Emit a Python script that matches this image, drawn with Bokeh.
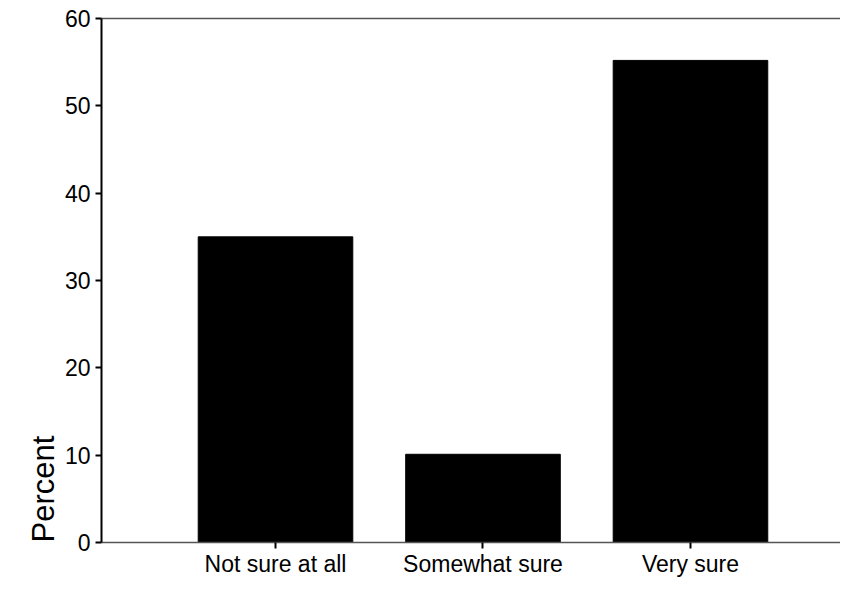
from bokeh.plotting import figure
from bokeh.models import Range1d, FixedTicker, LinearAxis, Title, ColumnDataSource
from bokeh.embed import file_html
from bokeh.resources import INLINE

categories = ["Not sure at all", "Somewhat sure", "Very sure"]
percent = [35.0, 10.1, 55.2]
y_ticks = [0, 10, 20, 30, 40, 50, 60]

xpos = list(range(1, len(categories) + 1))
src = ColumnDataSource(dict(x=xpos, top=percent, cat=categories))

FONT = "Liberation Sans"

p = figure(width=840, height=579, output_backend="svg", toolbar_location=None,
           x_range=Range1d(0.1614, 3.723), y_range=Range1d(0, 60),
           min_border_left=101, min_border_right=0, min_border_top=18, min_border_bottom=28)
p.outline_line_color = None
p.xgrid.visible = False
p.ygrid.visible = False
p.background_fill_color = "white"
p.border_fill_color = "white"

p.vbar(x="x", top="top", width=0.745, bottom=0, source=src,
       fill_color="black", line_color="black")

# y axis
ya = p.yaxis[0]
ya.ticker = FixedTicker(ticks=y_ticks)
ya.axis_line_color = "black"
ya.axis_line_width = 2
ya.major_tick_line_color = "black"
ya.major_tick_line_width = 2
ya.major_tick_out = 6
ya.major_tick_in = 0
ya.minor_tick_line_color = None
ya.major_label_text_font = FONT
ya.major_label_text_font_size = "23px"
ya.major_label_text_color = "black"
ya.major_label_standoff = 5

# x axis
xa = p.xaxis[0]
xa.ticker = FixedTicker(ticks=xpos)
xa.major_label_overrides = {i: c for i, c in zip(xpos, categories)}
xa.axis_line_color = "#555555"
xa.axis_line_width = 1.5
xa.major_tick_line_color = "black"
xa.major_tick_line_width = 2
xa.major_tick_out = 6
xa.major_tick_in = 0
xa.minor_tick_line_color = None
xa.major_label_text_font = FONT
xa.major_label_text_font_size = "23px"
xa.major_label_text_color = "black"
xa.major_label_standoff = 2

# top border line
top = LinearAxis(ticker=FixedTicker(ticks=[]), major_label_text_font_size="0px",
                 axis_line_color="#555555", axis_line_width=1.5,
                 major_tick_line_color=None, minor_tick_line_color=None,
                 major_label_standoff=0)
p.add_layout(top, "above")

p.add_layout(Title(text="Percent", align="left", text_font=FONT,
                   text_font_size="31px", text_font_style="normal",
                   text_color="black", standoff=2), "left")

open("out.html", "w").write(file_html(p, INLINE))
